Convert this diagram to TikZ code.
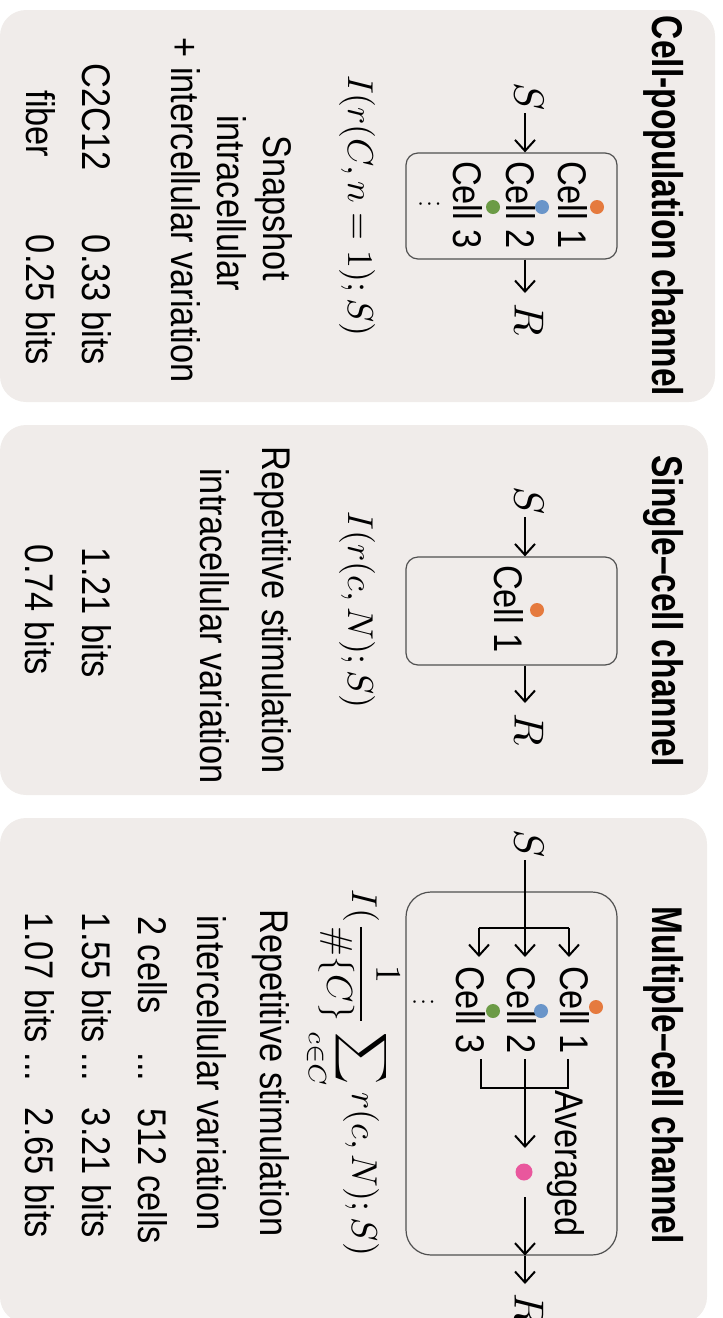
\documentclass[tikz,border=0pt]{standalone}
\usepackage{fontspec}
\newfontfamily\lblfont{Liberation Sans}[FakeStretch=0.86]
\newfontfamily\ttlfont{Liberation Sans}[FakeStretch=0.78]
\usetikzlibrary{arrows.meta}
\definecolor{panelbg}{HTML}{F0ECEA}
\definecolor{boxline}{HTML}{505050}
\definecolor{dotorange}{HTML}{E57A3E}
\definecolor{dotblue}{HTML}{6A95C9}
\definecolor{dotgreen}{HTML}{6C9B46}
\definecolor{dotpink}{HTML}{E9579D}
\begin{document}
\begin{tikzpicture}[x=1pt,y=-1pt,
  panel/.style={fill=panelbg, rounded corners=26pt},
  cellbox/.style={draw=boxline, line width=1.2pt, inner sep=0pt},
  arr/.style={line width=2pt, -{Straight Barb[length=11pt,width=20pt]}},
  wire/.style={line width=2pt},
  lbl/.style={rotate=-90, anchor=base, inner sep=0pt, font=\lblfont\fontsize{40}{48}\selectfont},
  ttl/.style={rotate=-90, anchor=base, inner sep=0pt, font=\ttlfont\bfseries\fontsize{43}{52}\selectfont},
  mth/.style={rotate=-90, anchor=base, inner sep=0pt, scale=3.6, font=\fontsize{10}{12}\selectfont},
  var/.style={rotate=-90, inner sep=0pt, scale=4.2, font=\fontsize{10}{12}\selectfont},
  vd/.style={rotate=-90, inner sep=0pt, scale=2.2, font=\fontsize{12}{14}\selectfont},
  celldot/.style={circle, inner sep=0pt, minimum size=14pt}]
\useasboundingbox (0,0) rectangle (723,1318);

% ---------- panel 1: cell-population channel ----------
\fill[panel] (0,10) rectangle (715,402);
\node[ttl] (t1) at (652,206) {Cell-population channel};
\node[var] (s1) at (529,97) {$S$};
\node[cellbox, rounded corners=12pt, minimum width=211pt, minimum height=106pt] (b1) at (511.5,206) {};
\node[lbl] (c11) at (558,205) {Cell 1};
\node[lbl] (c12) at (506,205) {Cell 2};
\node[lbl] (c13) at (453,205) {Cell 3};
\node[vd] (v1) at (436,204) {$\vdots$};
\node[celldot, fill=dotorange] (d11) at (597,207) {};
\node[celldot, fill=dotblue] (d12) at (542,207) {};
\node[celldot, fill=dotgreen] (d13) at (493,207) {};
\node[var] (r1) at (529,320) {$R$};
\coordinate (a1s) at (525,113);
\coordinate (a1e) at (525,293);
\draw[arr] (a1s) -- (a1s |- b1.north);
\draw[arr] (a1e |- b1.south) -- (a1e);
\node[mth] (m1) at (348,206) {$I(r(C,n=1);S)$};
\node[lbl] (x11) at (263,208) {Snapshot};
\node[lbl] (x12) at (217,203) {intracellular};
\node[lbl] (x13) at (171,210) {+ intercellular variation};
\node[lbl] (x14) at (82,117) {C2C12};
\node[lbl] (x15) at (82,300) {0.33 bits};
\node[lbl] (x16) at (26,124) {fiber};
\node[lbl] (x17) at (26,300) {0.25 bits};

% ---------- panel 2: single-cell channel ----------
\fill[panel] (0,425) rectangle (708,795);
\node[ttl] (t2) at (652,611) {Single\textendash cell channel};
\node[var] (s2) at (529,501) {$S$};
\node[cellbox, rounded corners=12pt, minimum width=211pt, minimum height=108pt] (b2) at (511.5,611) {};
\node[lbl] (c21) at (494,609) {Cell 1};
\node[celldot, fill=dotorange] (d21) at (537,610) {};
\node[var] (r2) at (529,730) {$R$};
\coordinate (a2s) at (525,517);
\coordinate (a2e) at (525,703);
\draw[arr] (a2s) -- (a2s |- b2.north);
\draw[arr] (a2e |- b2.south) -- (a2e);
\node[mth] (m2) at (348,610) {$I(r(c,N);S)$};
\node[lbl] (x21) at (262,610) {Repetitive stimulation};
\node[lbl] (x22) at (200,626) {intracellular variation};
\node[lbl] (x23) at (82,613) {1.21 bits};
\node[lbl] (x24) at (25,610) {0.74 bits};

% ---------- panel 3: multiple-cell channel ----------
\fill[panel] (0,818) rectangle (707,1323);
\node[ttl] (t3) at (652,1075) {Multiple\textendash cell channel};
\node[var] (s3) at (529,844) {$S$};
\node[cellbox, rounded corners=25pt, minimum width=211pt, minimum height=363pt] (b3) at (511.5,1073.5) {};
\node[lbl] (c31) at (560,1010) {Cell 1};
\node[lbl] (c32) at (507,1010) {Cell 2};
\node[lbl] (c33) at (456,1010) {Cell 3};
\node[vd] (v3) at (430,1002) {$\vdots$};
\node[celldot, fill=dotorange] (d31) at (596,1007) {};
\node[celldot, fill=dotblue] (d32) at (541,1011) {};
\node[celldot, fill=dotgreen] (d33) at (493,1011) {};
\node[celldot, fill=dotpink, minimum size=17pt] (avg) at (524,1172) {};
\node[var] (r3) at (529,1310) {$R$};
% fan-out of the stimulus to the cells
\coordinate (f0) at (525,860);
\coordinate (fl) at (569,928);
\coordinate (fr) at (479,928);
\coordinate (fend) at (525,957);
\draw[arr] (f0) -- (fend);
\draw[wire] (fl) -- (fr);
\draw[arr] (fl) -- (fl |- fend);
\draw[arr] (fr) -- (fr |- fend);
% averaging bracket
\coordinate (g1) at (568,1059);
\coordinate (g3) at (481,1059);
\coordinate (gb) at (525,1088);
\draw[wire] (g1) -- (g1 |- gb) -- (g3 |- gb) -- (g3);
\coordinate (g2) at (525,1059);
\coordinate (gend) at (525,1148);
\draw[arr] (g2) -- (gend);
\coordinate (o1) at (525,1197);
\coordinate (o3) at (525,1284);
\draw[arr] (o1) -- (o1 |- b3.south);
\draw[arr] (o1 |- b3.south) -- (o3);
\node[lbl, anchor=base west] (avl) at (555,1090) {Averaged};
\node[mth] (m3) at (352,1073) {$\displaystyle I(\frac{1}{\#\{C\}}\sum_{c\in C} r(c,N);S)$};
\node[lbl] (x31) at (260,1073) {Repetitive stimulation};
\node[lbl] (x32) at (197,1073) {intercellular variation};
\node[lbl] (x33) at (138,965) {2 cells};
\node[lbl] (x34) at (138,1067) {...};
\node[lbl] (x35) at (138,1176) {512 cells};
\node[lbl] (x36) at (82,978) {1.55 bits};
\node[lbl] (x37) at (82,1067) {...};
\node[lbl] (x38) at (82,1173) {3.21 bits};
\node[lbl] (x39) at (25,978) {1.07 bits};
\node[lbl] (x40) at (25,1067) {...};
\node[lbl] (x41) at (25,1173) {2.65 bits};
\end{tikzpicture}
\end{document}
